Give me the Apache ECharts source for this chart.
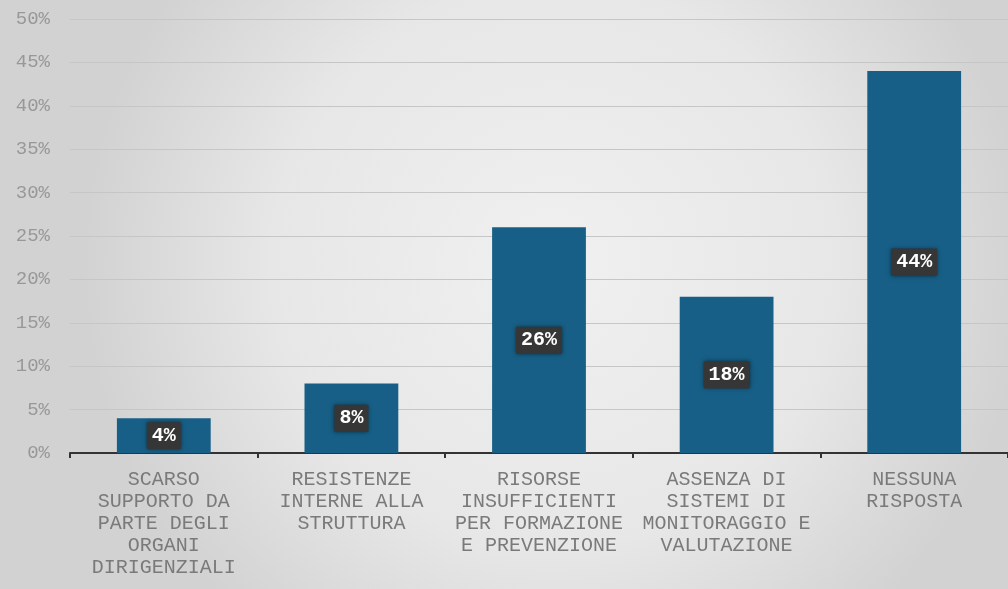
<!DOCTYPE html>
<html>
<head>
<meta charset="utf-8">
<script src="https://cdn.jsdelivr.net/npm/echarts@6/dist/echarts.min.js"></script>
<style>
  html, body { margin: 0; padding: 0; }
  #chart { width: 1008px; height: 589px; }
</style>
</head>
<body>
<div id="chart"></div>
<script>
// Categories (line breaks as shown under each bar)
const categories = [
  'SCARSO\nSUPPORTO DA\nPARTE DEGLI\nORGANI\nDIRIGENZIALI',
  'RESISTENZE\nINTERNE ALLA\nSTRUTTURA',
  'RISORSE\nINSUFFICIENTI\nPER FORMAZIONE\nE PREVENZIONE',
  'ASSENZA DI\nSISTEMI DI\nMONITORAGGIO E\nVALUTAZIONE',
  'NESSUNA\nRISPOSTA'
];
// Share of answers, in percent
const values = [4, 8, 26, 18, 44];
// Value axis range and step, in percent
const yMin = 0;
const yMax = 50;
const yStep = 5;

const mono = '"Liberation Mono", "DejaVu Sans Mono", monospace';

const chart = echarts.init(document.getElementById('chart'));
chart.setOption({
  backgroundColor: {
    type: 'radial', x: 0.55, y: 0.45, r: 0.8,
    colorStops: [
      { offset: 0, color: '#f0f0f0' },
      { offset: 0.6, color: '#e7e7e7' },
      { offset: 1, color: '#d2d2d2' }
    ]
  },
  animation: false,
  grid: { left: 70, top: 19, width: 940, height: 434, containLabel: false },
  xAxis: {
    type: 'category',
    data: categories,
    axisLine: { lineStyle: { color: '#333', width: 2 } },
    axisTick: { show: true, length: 5, lineStyle: { color: '#333', width: 2 } },
    axisLabel: {
      interval: 0, margin: 16, color: '#7a7a7a', fontFamily: mono,
      fontSize: 20, lineHeight: 22, align: 'center'
    }
  },
  yAxis: {
    type: 'value', min: yMin, max: yMax, interval: yStep,
    axisLine: { show: false },
    axisTick: { show: false },
    axisLabel: {
      formatter: v => v + '%', color: '#989898', fontFamily: mono,
      fontSize: 19, margin: 20
    },
    splitLine: { lineStyle: { color: '#c6c6c6', width: 1 } }
  },
  series: [{
    type: 'bar',
    data: values,
    barWidth: '50%',
    itemStyle: { color: '#175f86' },
    label: {
      show: true, position: 'inside',
      formatter: p => p.value + '%',
      color: '#ffffff', fontFamily: mono, fontWeight: 'bold', fontSize: 20,
      backgroundColor: '#363636', padding: [4, 5, 3, 5],
      shadowColor: 'rgba(0,0,0,0.5)', shadowBlur: 4
    }
  }]
});
</script>
</body>
</html>
